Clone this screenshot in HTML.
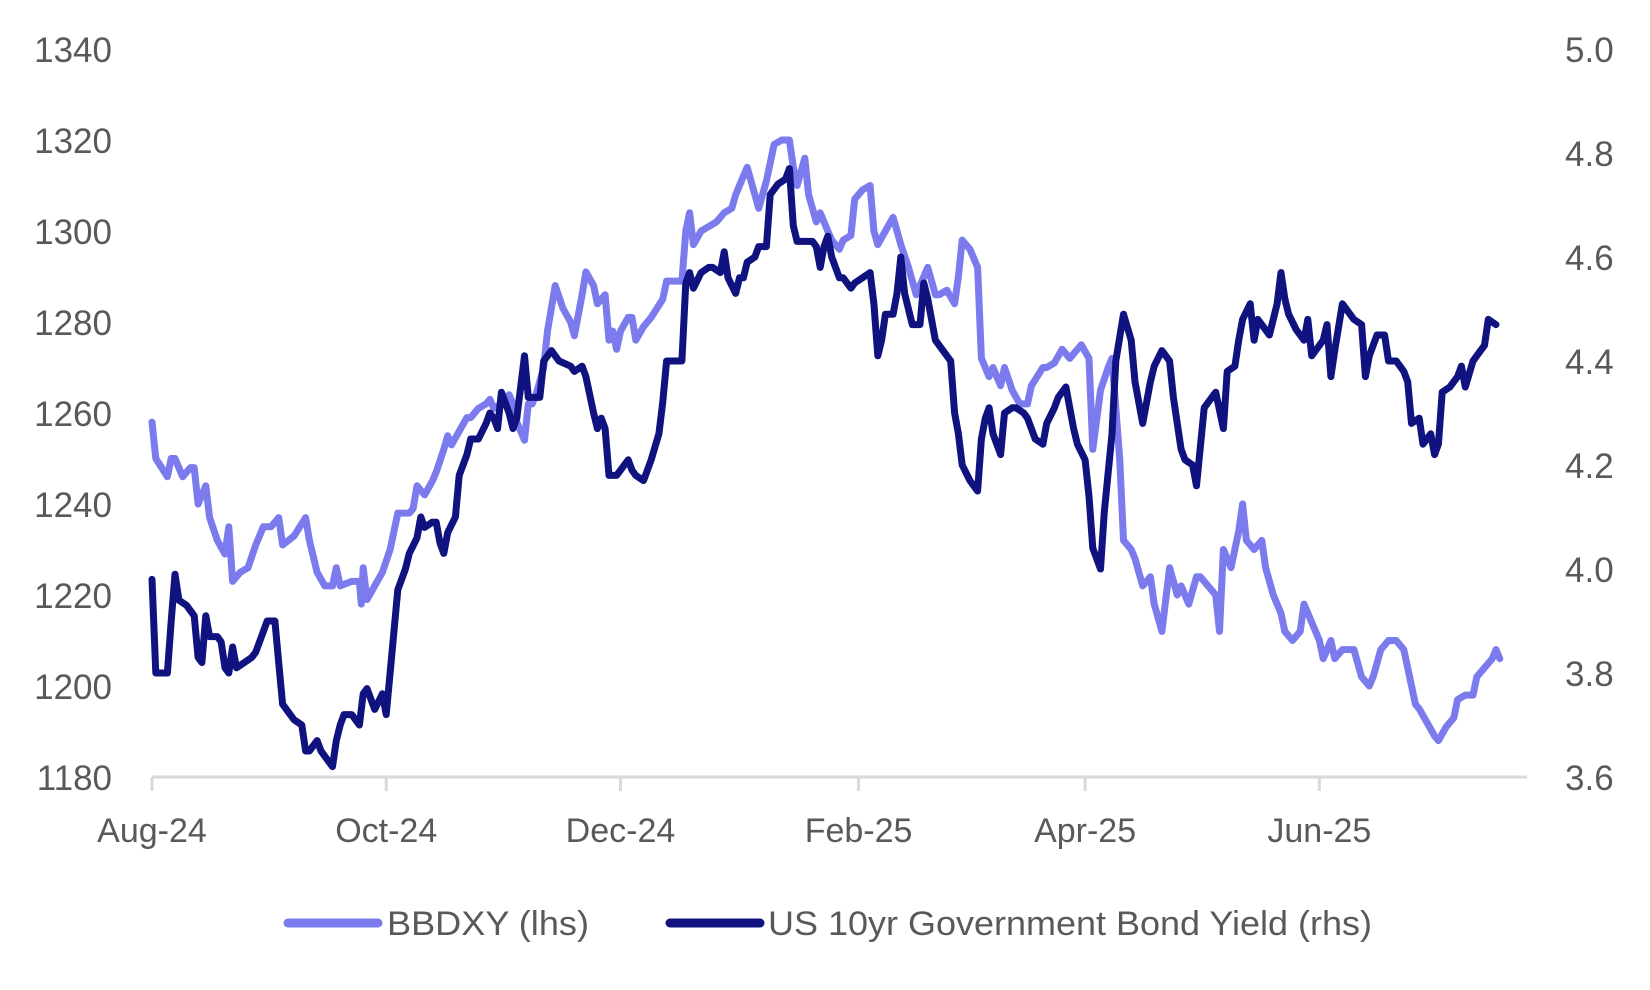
<!DOCTYPE html>
<html><head><meta charset="utf-8"><style>
html,body{margin:0;padding:0;background:#fff;}
svg{display:block;font-family:"Liberation Sans",sans-serif;}
</style></head><body>
<svg id="chart" width="1650" height="990" viewBox="0 0 1650 990" xmlns="http://www.w3.org/2000/svg">
<g id="gridlayer"></g>
<g id="serieslayer"></g>
<g id="legend">
  <line x1="288" y1="923" x2="378" y2="923" stroke="#7B7BEE" stroke-width="9" stroke-linecap="round"/>
  <text x="387" y="935" font-size="34" fill="#595959" textLength="202" lengthAdjust="spacingAndGlyphs">BBDXY (lhs)</text>
  <line x1="670" y1="923" x2="760" y2="923" stroke="#10127F" stroke-width="9" stroke-linecap="round"/>
  <text x="768" y="935" font-size="34" fill="#595959" textLength="604" lengthAdjust="spacingAndGlyphs">US 10yr Government Bond Yield (rhs)</text>
</g>
</svg>
<script>
// days since 1 Aug 2024
const bbdxyDays=[0,1,4,5,6,8,10,11,12,14,15,17,19,20,21,23,25,27,29,31,33,34,37,40,41,43,45,47,48,49,52,54,54.5,55,56,58,60,62,64,67,68,69,71,73,74,76,77,78,80,82,83,85,87,88,89,91,93,94,95,97,98,99,100,102,103,105,107,109,110,112,113,115,116,118,119,120,121,122,124,125,126,128,130,133,134,136,138,139,140,141,143,145,147,149,151,152,153,155,156,158,160,162,164,166,167,168,170,171,173,174,176,177,179,180,182,183,185,187,188,189,191,193,194,195,197,199,200,202,204,205,207,209,210,211,213,215,216,218,219,221,222,224,226,228,229,232,233,235,237,239,240,242,244,245,247,249,250,252,253,255,256,258,260,261,263,265,267,268,270,272,273,275,277,278,279,281,283,284,285,287,289,290,292,294,295,297,299,300,302,304,305,307,308,310,312,313,315,317,318,320,322,324,326,327,329,330,332,334,335,337,339,340,342,344,345,347,349,350,351];
const bbdxyValues=[1258,1250,1246,1250,1250,1246,1248,1248,1240,1244,1237,1232,1229,1235,1223,1225,1226,1231,1235,1235,1237,1231,1233,1237,1232,1225,1222,1222,1226,1222,1223,1223,1218,1226,1219,1222,1225,1230,1238,1238,1239,1244,1242,1245,1247,1252,1255,1253,1256,1259,1259,1261,1262,1263,1261,1262,1264,1262,1258,1254,1262,1262,1264,1270,1278,1288,1283,1280,1277,1286,1291,1288,1284,1286,1276,1278,1274,1278,1281,1281,1276,1279,1281,1285,1289,1289,1289,1300,1304,1297,1300,1301,1302,1304,1305,1308,1310,1314,1311,1305,1311,1319,1320,1320,1314,1310,1316,1308,1302,1304,1300,1298,1296,1298,1299,1307,1309,1310,1300,1297,1300,1303,1300,1297,1292,1286,1288,1292,1286,1286,1287,1284,1290,1298,1296,1292,1272,1268,1270,1266,1270,1265,1262,1262,1266,1270,1270,1271,1274,1272,1273,1275,1272,1252,1265,1270,1272,1250,1232,1230,1228,1222,1224,1218,1212,1226,1220,1222,1218,1224,1224,1222,1220,1212,1230,1226,1234,1240,1232,1230,1232,1226,1220,1216,1212,1210,1212,1218,1214,1210,1206,1210,1206,1208,1208,1208,1202,1200,1202,1208,1210,1210,1208,1204,1196,1195,1192,1189,1188,1191,1193,1197,1198,1198,1202,1204,1206,1208,1206];
const yieldDays=[0,1,2,4,5,6,7,9,11,12,13,14,15,17,18,19,20,21,22,24,26,27,29,30,32,33,34,36,37,39,40,41,43,44,46,47,48,49,50,52,54,55,56,58,60,61,62,64,66,67,69,70,71,73,74,75,76,77,79,80,82,83,85,87,88,89,90,91,93,94,95,97,98,99,101,102,104,105,106,109,110,112,113,115,116,117,118,119,121,122,124,125,126,128,129,130,132,133,134,136,138,139,140,141,143,145,146,148,149,150,152,153,154,155,157,158,160,161,163,165,166,167,168,170,172,173,174,175,176,177,179,180,182,183,185,187,188,189,190,191,193,194,195,196,198,199,200,201,202,204,206,208,209,210,211,213,215,216,217,218,219,221,222,224,225,227,228,230,232,233,235,236,238,240,241,243,244,245,247,248,250,251,253,255,256,258,260,261,263,265,266,268,269,271,272,274,276,277,279,280,282,283,284,286,287,288,290,291,293,294,295,296,298,300,301,302,304,305,306,307,308,310,311,313,315,316,317,319,321,322,324,326,327,328,330,331,333,334,335,336,338,340,341,342,344,346,347,348,350];
const yieldValues=[3.98,3.80,3.80,3.80,3.90,3.99,3.94,3.93,3.91,3.83,3.82,3.91,3.87,3.87,3.86,3.81,3.80,3.85,3.81,3.82,3.83,3.84,3.88,3.90,3.90,3.82,3.74,3.72,3.71,3.70,3.65,3.65,3.67,3.65,3.63,3.62,3.67,3.70,3.72,3.72,3.70,3.76,3.77,3.73,3.76,3.72,3.80,3.96,4.00,4.03,4.06,4.10,4.08,4.09,4.09,4.05,4.03,4.07,4.10,4.18,4.22,4.25,4.25,4.28,4.30,4.29,4.27,4.34,4.30,4.27,4.29,4.41,4.33,4.33,4.33,4.40,4.42,4.41,4.40,4.39,4.38,4.39,4.37,4.30,4.27,4.29,4.27,4.18,4.18,4.19,4.21,4.19,4.18,4.17,4.19,4.21,4.26,4.32,4.40,4.40,4.40,4.55,4.57,4.54,4.57,4.58,4.58,4.57,4.61,4.56,4.53,4.56,4.56,4.59,4.60,4.62,4.62,4.72,4.74,4.75,4.77,4.66,4.63,4.63,4.63,4.62,4.58,4.62,4.64,4.60,4.56,4.56,4.54,4.55,4.56,4.57,4.51,4.41,4.44,4.49,4.49,4.53,4.60,4.53,4.47,4.47,4.47,4.55,4.52,4.44,4.42,4.40,4.30,4.26,4.20,4.17,4.15,4.25,4.29,4.31,4.26,4.22,4.30,4.31,4.31,4.30,4.29,4.25,4.24,4.28,4.31,4.33,4.35,4.27,4.24,4.21,4.14,4.04,4.00,4.11,4.26,4.40,4.49,4.44,4.36,4.28,4.36,4.39,4.42,4.40,4.33,4.23,4.21,4.20,4.16,4.31,4.33,4.34,4.27,4.38,4.39,4.44,4.48,4.51,4.44,4.48,4.46,4.45,4.51,4.57,4.52,4.49,4.46,4.44,4.48,4.41,4.43,4.44,4.47,4.37,4.42,4.51,4.50,4.48,4.47,4.37,4.41,4.45,4.45,4.40,4.40,4.38,4.36,4.28,4.29,4.24,4.26,4.22,4.24,4.34,4.35,4.37,4.39,4.35,4.40,4.42,4.43,4.48,4.47];
const xTickDays=[0,61,122,184,243,304];
const xTickLabels=["Aug-24","Oct-24","Dec-24","Feb-25","Apr-25","Jun-25"];
const leftTicks=[1180,1200,1220,1240,1260,1280,1300,1320,1340];
const rightTicks=[3.6,3.8,4.0,4.2,4.4,4.6,4.8,5.0];

const NS="http://www.w3.org/2000/svg";
const X0=152, PXDAY=3.84, AXEND=1527, YTOP=49, YBOT=777;
const xs=d=>X0+d*PXDAY;
const yl=v=>YBOT-(v-1180)/(1340-1180)*(YBOT-YTOP);
const yr=v=>YBOT-(v-3.6)/(5.0-3.6)*(YBOT-YTOP);
function mk(tag,attrs,parent){const e=document.createElementNS(NS,tag);for(const k in attrs)e.setAttribute(k,attrs[k]);parent.appendChild(e);return e;}
const ax=document.getElementById('gridlayer');
const axisLine=mk('line',{x1:X0,y1:YBOT,x2:AXEND,y2:YBOT,stroke:'#D9D9D9','stroke-width':3},ax);


xTickDays.forEach((d,i)=>{
  const t=mk('line',{x1:xs(d),y1:YBOT,x2:xs(d),y2:YBOT+14,stroke:'#D9D9D9','stroke-width':3},ax);
  
  
  const l=mk('text',{x:xs(d),y:842,'text-anchor':'middle','font-size':34,fill:'#595959'},ax);
  l.textContent=xTickLabels[i];
  
  
});
leftTicks.forEach(v=>{
  const l=mk('text',{x:112,y:yl(v)+13,'text-anchor':'end','font-size':35,fill:'#595959'},ax);
  l.textContent=String(v);
  
  
});
rightTicks.forEach(v=>{
  const l=mk('text',{x:1565,y:yr(v)+13,'text-anchor':'start','font-size':35,fill:'#595959'},ax);
  l.textContent=v.toFixed(1);
  
  
});
const sl=document.getElementById('serieslayer');
const p1=mk('polyline',{points:bbdxyDays.map((d,i)=>xs(d).toFixed(1)+','+yl(bbdxyValues[i]).toFixed(1)).join(' '),fill:'none',stroke:'#7B7BEE','stroke-width':7,'stroke-linejoin':'round','stroke-linecap':'round'},sl);


const p2=mk('polyline',{points:yieldDays.map((d,i)=>xs(d).toFixed(1)+','+yr(yieldValues[i]).toFixed(1)).join(' '),fill:'none',stroke:'#10127F','stroke-width':7,'stroke-linejoin':'round','stroke-linecap':'round'},sl);


</script>
</body></html>
